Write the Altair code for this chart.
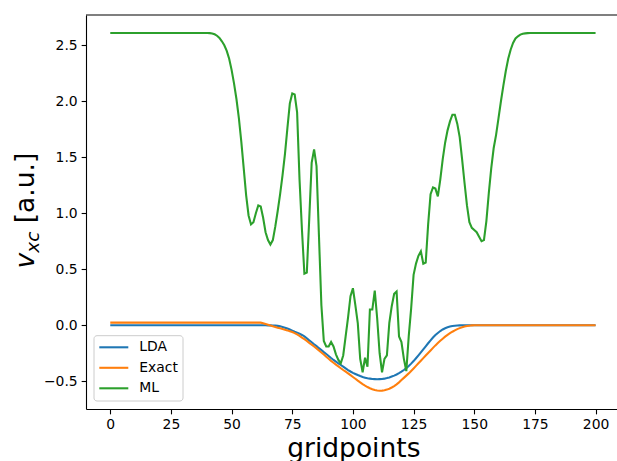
import altair as alt
import pandas as pd

GRIDPOINTS = list(range(201))

LDA = [
    0.0, 0.0, 0.0, 0.0, 0.0, 0.0, 0.0, 0.0, 0.0, 0.0,
    0.0, 0.0, 0.0, 0.0, 0.0, 0.0, 0.0, 0.0, 0.0, 0.0,
    0.0, 0.0, 0.0, 0.0, 0.0, 0.0, 0.0, 0.0, 0.0, 0.0,
    0.0, 0.0, 0.0, 0.0, 0.0, 0.0, 0.0, 0.0, 0.0, 0.0,
    0.0, 0.0, 0.0, 0.0, 0.0, 0.0, 0.0, 0.0, 0.0, 0.0,
    0.0, 0.0, 0.0, 0.0, 0.0, 0.0, 0.0, 0.0, 0.0, 0.0,
    0.0, 0.0, 0.0, 0.0, 0.0, -0.001, -0.001, -0.002, -0.003, -0.006,
    -0.010, -0.015, -0.022, -0.030, -0.038, -0.048, -0.058, -0.066, -0.075, -0.087,
    -0.100, -0.117, -0.135, -0.152, -0.170, -0.187, -0.205, -0.222, -0.240, -0.257,
    -0.275, -0.293, -0.310, -0.325, -0.340, -0.355, -0.370, -0.385, -0.400, -0.413,
    -0.425, -0.435, -0.445, -0.454, -0.462, -0.468, -0.474, -0.477, -0.480, -0.481,
    -0.482, -0.481, -0.480, -0.477, -0.472, -0.466, -0.458, -0.450, -0.440, -0.428,
    -0.415, -0.400, -0.383, -0.364, -0.343, -0.320, -0.295, -0.269, -0.242, -0.215,
    -0.188, -0.161, -0.135, -0.110, -0.088, -0.069, -0.052, -0.038, -0.027, -0.019,
    -0.012, -0.007, -0.004, -0.002, -0.001, 0.0, 0.0, 0.0, 0.0, 0.0,
    0.0, 0.0, 0.0, 0.0, 0.0, 0.0, 0.0, 0.0, 0.0, 0.0,
    0.0, 0.0, 0.0, 0.0, 0.0, 0.0, 0.0, 0.0, 0.0, 0.0,
    0.0, 0.0, 0.0, 0.0, 0.0, 0.0, 0.0, 0.0, 0.0, 0.0,
    0.0, 0.0, 0.0, 0.0, 0.0, 0.0, 0.0, 0.0, 0.0, 0.0,
    0.0, 0.0, 0.0, 0.0, 0.0, 0.0, 0.0, 0.0, 0.0, 0.0,
    0.0,
]

EXACT = [
    0.023, 0.023, 0.023, 0.023, 0.023, 0.023, 0.023, 0.023, 0.023, 0.023,
    0.023, 0.023, 0.023, 0.023, 0.023, 0.023, 0.023, 0.023, 0.023, 0.023,
    0.023, 0.023, 0.023, 0.023, 0.023, 0.023, 0.023, 0.023, 0.023, 0.023,
    0.023, 0.023, 0.023, 0.023, 0.023, 0.023, 0.023, 0.023, 0.023, 0.023,
    0.023, 0.023, 0.023, 0.023, 0.023, 0.023, 0.023, 0.023, 0.023, 0.023,
    0.023, 0.023, 0.023, 0.023, 0.023, 0.023, 0.023, 0.023, 0.023, 0.023,
    0.023, 0.023, 0.023, 0.018, 0.011, 0.004, -0.003, -0.010, -0.016, -0.022,
    -0.028, -0.034, -0.040, -0.046, -0.053, -0.061, -0.070, -0.082, -0.095, -0.110,
    -0.125, -0.140, -0.157, -0.173, -0.190, -0.207, -0.225, -0.243, -0.262, -0.281,
    -0.300, -0.318, -0.335, -0.352, -0.368, -0.384, -0.400, -0.415, -0.430, -0.446,
    -0.462, -0.478, -0.495, -0.511, -0.526, -0.540, -0.552, -0.563, -0.572, -0.579,
    -0.583, -0.585, -0.584, -0.581, -0.575, -0.567, -0.556, -0.543, -0.528, -0.510,
    -0.490, -0.470, -0.450, -0.430, -0.408, -0.386, -0.363, -0.340, -0.317, -0.294,
    -0.271, -0.248, -0.225, -0.202, -0.180, -0.159, -0.139, -0.120, -0.102, -0.086,
    -0.071, -0.058, -0.046, -0.035, -0.026, -0.018, -0.012, -0.007, -0.004, -0.001,
    0.0, 0.0, 0.0, 0.0, 0.0, 0.0, 0.0, 0.0, 0.0, 0.0,
    0.0, 0.0, 0.0, 0.0, 0.0, 0.0, 0.0, 0.0, 0.0, 0.0,
    0.0, 0.0, 0.0, 0.0, 0.0, 0.0, 0.0, 0.0, 0.0, 0.0,
    0.0, 0.0, 0.0, 0.0, 0.0, 0.0, 0.0, 0.0, 0.0, 0.0,
    0.0, 0.0, 0.0, 0.0, 0.0, 0.0, 0.0, 0.0, 0.0, 0.0,
    0.0,
]

ML = [
    2.61, 2.61, 2.61, 2.61, 2.61, 2.61, 2.61, 2.61, 2.61, 2.61,
    2.61, 2.61, 2.61, 2.61, 2.61, 2.61, 2.61, 2.61, 2.61, 2.61,
    2.61, 2.61, 2.61, 2.61, 2.61, 2.61, 2.61, 2.61, 2.61, 2.61,
    2.61, 2.61, 2.61, 2.61, 2.61, 2.61, 2.61, 2.61, 2.61, 2.61,
    2.61, 2.608, 2.605, 2.598, 2.585, 2.565, 2.535, 2.50, 2.45, 2.38,
    2.28, 2.16, 2.02, 1.85, 1.64, 1.40, 1.16, 0.98, 0.90, 0.92,
    1.00, 1.07, 1.06, 0.96, 0.83, 0.76, 0.72, 0.76, 0.88, 1.02,
    1.17, 1.34, 1.53, 1.76, 1.98, 2.07, 2.06, 1.90, 1.30, 0.85,
    0.46, 0.47, 0.95, 1.45, 1.57, 1.42, 0.80, 0.18, -0.14, -0.19,
    -0.19, -0.15, -0.19, -0.26, -0.31, -0.34, -0.27, -0.10, 0.07, 0.26,
    0.33, 0.18, 0.02, -0.30, -0.42, -0.29, -0.37, 0.14, 0.14, 0.31,
    0.06, -0.25, -0.42, -0.30, -0.27, 0.02, 0.17, 0.28, 0.30, -0.10,
    -0.15, -0.30, -0.41, -0.10, 0.15, 0.45, 0.55, 0.62, 0.66, 0.55,
    0.56, 0.90, 1.17, 1.23, 1.22, 1.15, 1.30, 1.48, 1.63, 1.74,
    1.82, 1.88, 1.88, 1.80, 1.68, 1.48, 1.27, 1.07, 0.92, 0.87,
    0.85, 0.83, 0.79, 0.75, 0.76, 0.93, 1.18, 1.40, 1.58, 1.70,
    1.85, 2.00, 2.14, 2.27, 2.38, 2.46, 2.52, 2.56, 2.58, 2.595,
    2.603, 2.606, 2.608, 2.609, 2.61, 2.61, 2.61, 2.61, 2.61, 2.61,
    2.61, 2.61, 2.61, 2.61, 2.61, 2.61, 2.61, 2.61, 2.61, 2.61,
    2.61, 2.61, 2.61, 2.61, 2.61, 2.61, 2.61, 2.61, 2.61, 2.61,
    2.61,
]

SERIES = ["LDA", "Exact", "ML"]
COLORS = ["#1f77b4", "#ff7f0e", "#2ca02c"]
X_TICKS = [0, 25, 50, 75, 100, 125, 150, 175, 200]
Y_TICKS = [-0.5, 0.0, 0.5, 1.0, 1.5, 2.0, 2.5]
X_TITLE = "gridpoints"
Y_TITLE_MAIN = "v"
Y_TITLE_SUB = "xc"
Y_TITLE_UNIT = "[a.u.]"

assert len(LDA) == len(EXACT) == len(ML) == len(GRIDPOINTS)

# layout (pixels)
W, H = 531, 394
PAD_L, PAD_T, PAD_B = 86, 15, 52
X_DOMAIN = [-10, 208.83]
Y_DOMAIN = [-0.748, 2.77]
FONT = "DejaVu Sans"
LW = 2.08

rows = []
for name, vals in zip(SERIES, [LDA, EXACT, ML]):
    for g, v in zip(GRIDPOINTS, vals):
        rows.append({"gridpoint": g, "series": name, "value": v})
df = pd.DataFrame(rows)
one = pd.DataFrame({"k": [0]})

x_enc = alt.X(
    "gridpoint:Q",
    scale=alt.Scale(domain=X_DOMAIN, nice=False, zero=False),
    axis=alt.Axis(
        values=X_TICKS, format="d", title=X_TITLE,
        titleX=267.3, titleY=47, titleBaseline="alphabetic",
        titleFontSize=26.5, titleFont=FONT, titleFontWeight="normal",
        titleColor="black",
    ),
)
y_enc = alt.Y(
    "value:Q",
    scale=alt.Scale(domain=Y_DOMAIN, nice=False, zero=False),
    axis=alt.Axis(values=Y_TICKS, format=".1f", title=None),
)

layers = []
for name, color in zip(SERIES, COLORS):
    layers.append(
        alt.Chart(df)
        .transform_filter(alt.datum.series == name)
        .mark_line(color=color, strokeWidth=LW, clip=True)
        .encode(x=x_enc, y=y_enc)
    )

# top spine
layers.append(
    alt.Chart(one).mark_rule(color="black", strokeWidth=1.1)
    .encode(x=alt.value(0), x2=alt.value(W), y=alt.value(0))
)

# legend (relative to plot origin)
LEG_X0, LEG_X1, LEG_Y0, LEG_Y1 = 8, 97, 320.7, 386.0
layers.append(
    alt.Chart(one)
    .mark_rect(fill="white", fillOpacity=0.8, stroke="#cccccc", strokeWidth=1, cornerRadius=3)
    .encode(x=alt.value(LEG_X0), x2=alt.value(LEG_X1), y=alt.value(LEG_Y0), y2=alt.value(LEG_Y1))
)
for i, (name, color) in enumerate(zip(SERIES, COLORS)):
    yy = 332.3 + 20.5 * i
    layers.append(
        alt.Chart(one).mark_rule(color=color, strokeWidth=LW)
        .encode(x=alt.value(13.3), x2=alt.value(42.3), y=alt.value(yy))
    )
    layers.append(
        alt.Chart(one).mark_text(text=name, align="left", baseline="middle",
                                 fontSize=13.9, font=FONT, color="black")
        .encode(x=alt.value(53.3), y=alt.value(yy))
    )

# y-axis title: v_xc [a.u.]
layers.append(
    alt.Chart(one).mark_text(text=Y_TITLE_MAIN, angle=270, align="left", baseline="alphabetic",
                             fontSize=26.5, font=FONT, fontStyle="italic", color="black")
    .encode(x=alt.value(-52.4), y=alt.value(253.5))
)
layers.append(
    alt.Chart(one).mark_text(text=Y_TITLE_SUB, angle=270, align="left", baseline="alphabetic",
                             fontSize=18.5, font=FONT, fontStyle="italic", color="black")
    .encode(x=alt.value(-47.4), y=alt.value(237.8))
)
layers.append(
    alt.Chart(one).mark_text(text=Y_TITLE_UNIT, angle=270, align="left", baseline="alphabetic",
                             fontSize=26.5, font=FONT, color="black")
    .encode(x=alt.value(-52.4), y=alt.value(208.3))
)

chart = (
    alt.layer(*layers)
    .properties(
        width=W, height=H,
        padding={"left": PAD_L, "top": PAD_T, "right": 0, "bottom": PAD_B},
        autosize=alt.AutoSizeParams(type="none"),
        background="white",
    )
    .configure_view(stroke=None)
    .configure_axis(
        grid=False,
        domainColor="black", domainWidth=1.1,
        tickColor="black", tickWidth=1.1, tickSize=4.86,
        labelColor="black", labelFont=FONT, labelFontSize=13.9,
        labelPadding=4.0,
    )
)

chart.save("out.html", embed_options={"renderer": "svg", "actions": False})
